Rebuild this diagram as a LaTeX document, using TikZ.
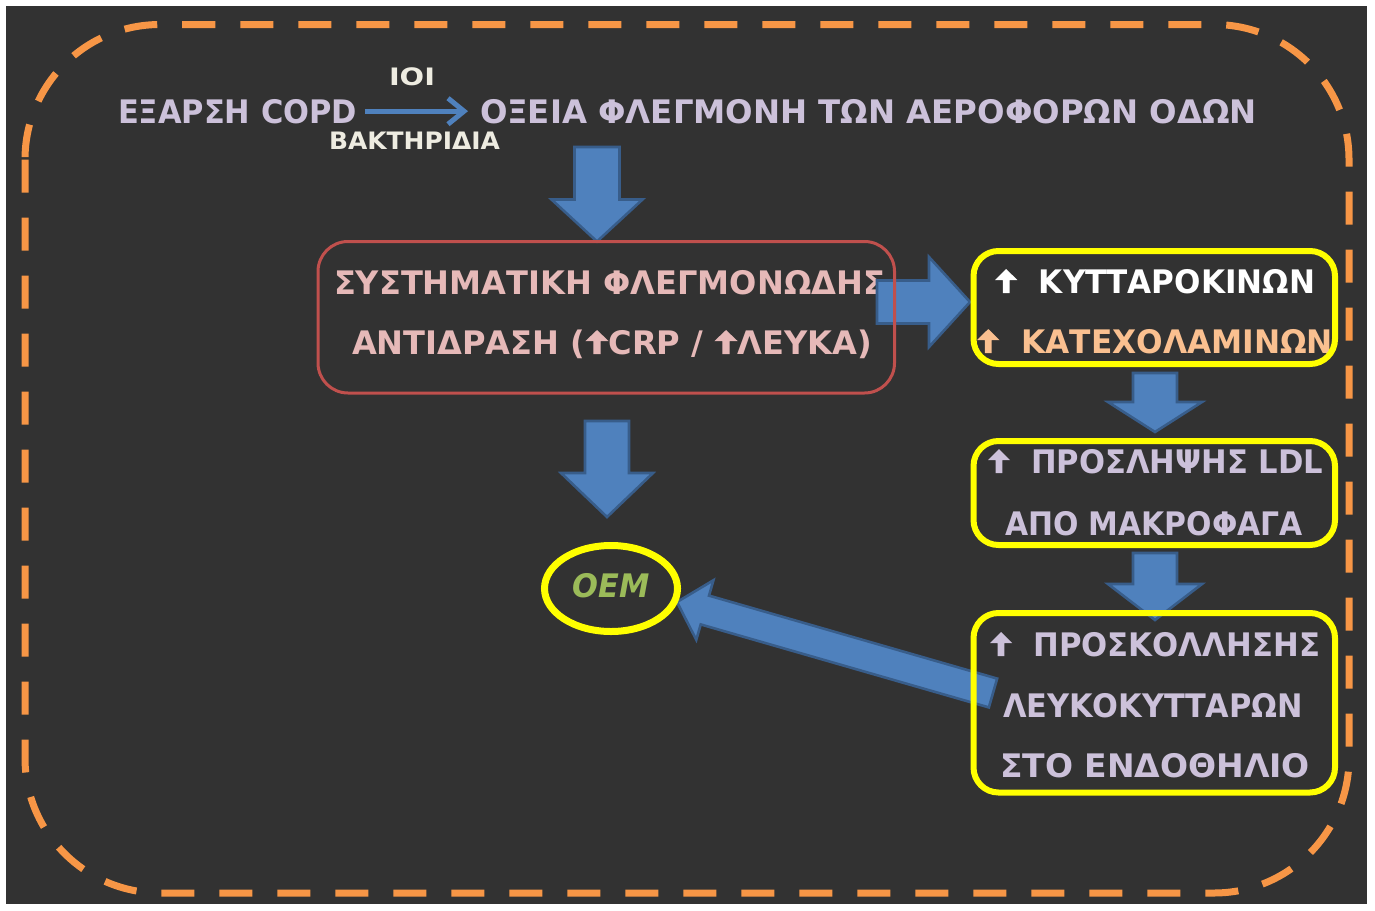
\documentclass[tikz,border=0pt]{standalone}
\usepackage{fontspec}
\setmainfont{DejaVu Sans}
\usepackage{graphicx}
\usetikzlibrary{calc,shapes.geometric,arrows.meta}

\definecolor{bgdark}{HTML}{323232}
\definecolor{frameorange}{HTML}{F79646}
\definecolor{lav}{HTML}{CCC1DA}
\definecolor{cream}{HTML}{EEECE1}
\definecolor{arrblue}{HTML}{4F81BD}
\definecolor{arredge}{HTML}{385D8A}
\definecolor{boxred}{HTML}{C0504D}
\definecolor{pinktxt}{HTML}{E6B9B8}
\definecolor{peach}{HTML}{FAC090}
\definecolor{oemgreen}{HTML}{9BBB59}
\definecolor{hiyellow}{HTML}{FFFF00}

\pgfdeclarelayer{bg}
\pgfdeclarelayer{txt}
\pgfdeclarelayer{arr}
\pgfsetlayers{bg,txt,arr,main}

% text line stretched to a given width
\newcommand\fw[2]{\resizebox{#1}{\height}{#2}}
% small filled "increase" arrow used inside the labels
\newcommand\UpArw[1]{\tikz[x=1em,y=1em,baseline=0pt]\fill[#1] (-0.11,0) -- (-0.11,0.4) -- (-0.36,0.4) -- (0,0.74) -- (0.36,0.4) -- (0.11,0.4) -- (0.11,0) -- cycle;}
% block arrow: [style]{tail}{tip}{shaft half width}{head half width}{head length}
\newcommand\blkarrow[6][]{%
  \path ($(#3)!#6!(#2)$) coordinate (hb);
  \filldraw[blockarrow,#1] ($(#2)!#4!90:(#3)$) -- ($(hb)!#4!90:(#3)$) -- ($(hb)!#5!90:(#3)$) -- (#3)
     -- ($(hb)!#5!-90:(#3)$) -- ($(hb)!#4!-90:(#3)$) -- ($(#2)!#4!-90:(#3)$) -- cycle;
}

\tikzset{
  lbl/.style={anchor=base west, inner sep=0pt, outer sep=0pt, font=\bfseries\fontsize{16.2pt}{19pt}\selectfont},
  smalllbl/.style={anchor=base, inner sep=0pt, outer sep=0pt, font=\bfseries\fontsize{12pt}{14pt}\selectfont, text=cream},
  redframe/.style={rectangle, draw=boxred, line width=1.5pt, rounded corners=15pt, inner sep=0pt, outer sep=0pt},
  yelframe/.style={rectangle, draw=hiyellow, line width=3pt, rounded corners=12.5pt, inner sep=0pt, outer sep=0pt, minimum width=180.75pt},
  blockarrow/.style={fill=arrblue, draw=arredge, line width=1.3pt, line join=miter},
  thinarrow/.style={draw=arrblue, line width=2.5pt, -{Straight Barb[length=8pt,width=13pt]}},
  outerframe/.style={draw=frameorange, line width=3.5pt, dash pattern=on 16.5pt off 12.5pt, rounded corners=67.5pt},
}

\begin{document}
\begin{tikzpicture}[x=0.5pt,y=-0.5pt]
\useasboundingbox (0,0) rectangle (1375,910);

\begin{pgfonlayer}{bg}
  \fill[white] (0,0) rectangle (1375,910);
  \fill[bgdark] (6,6) rectangle (1367,904);
  \draw[outerframe] (25,24.5) rectangle (1349,893);
\end{pgfonlayer}

% boxes
\node[redframe, minimum width=288.25pt, minimum height=75.75pt] (redbox) at (606.25,317.25) {};
\node[yelframe, minimum height=56.5pt] (box1) at (1154.25,307.5) {};
\node[yelframe, minimum height=52pt] (box2) at (1154.25,493) {};
\node[yelframe, minimum height=89.75pt] (box3) at (1154.25,702.75) {};
\node[ellipse, draw=hiyellow, line width=3.5pt, minimum width=66.5pt, minimum height=43pt, inner sep=0pt, outer sep=0pt] (oem) at (611,588.5) {};

% texts
\begin{pgfonlayer}{txt}
  \node[lbl, text=lav] (exa) at (118,123) {\fw{119.5pt}{ΕΞΑΡΣΗ COPD}};
  \node[lbl, text=lav] (oxeia) at (480,123) {\fw{388.5pt}{ΟΞΕΙΑ ΦΛΕΓΜΟΝΗ ΤΩΝ ΑΕΡΟΦΟΡΩΝ ΟΔΩΝ}};
  \node[smalllbl] (ioi) at (412,85) {\fw{23pt}{ΙΟΙ}};
  \node[smalllbl] (bakt) at (414.5,149) {\fw{85.5pt}{ΒΑΚΤΗΡΙΔΙΑ}};

  \node[lbl, text=pinktxt] (red1) at (334,294) {\fw{275.5pt}{ΣΥΣΤΗΜΑΤΙΚΗ ΦΛΕΓΜΟΝΩΔΗΣ}};
  \node[lbl, text=pinktxt] (red2) at (352,354) {\fw{260pt}{ΑΝΤΙΔΡΑΣΗ (\UpArw{pinktxt}CRP / \UpArw{pinktxt}ΛΕΥΚΑ)}};

  \node[lbl, text=white] (cyt) at (995,293) {\fw{160pt}{\UpArw{white}\ \ ΚΥΤΤΑΡΟΚΙΝΩΝ}};
  \node[lbl, text=peach] (cat) at (977,353) {\fw{178pt}{\UpArw{peach}\ \ ΚΑΤΕΧΟΛΑΜΙΝΩΝ}};

  \node[lbl, text=lav] (ldl1) at (988,473) {\fw{167.5pt}{\UpArw{lav}\ \ ΠΡΟΣΛΗΨΗΣ LDL}};
  \node[lbl, text=lav] (ldl2) at (1005,535) {\fw{149pt}{ΑΠΟ ΜΑΚΡΟΦΑΓΑ}};

  \node[lbl, text=lav] (adh1) at (990,656) {\fw{165pt}{\UpArw{lav}\ \ ΠΡΟΣΚΟΛΛΗΣΗΣ}};
  \node[lbl, text=lav] (adh2) at (1003,717) {\fw{150pt}{ΛΕΥΚΟΚΥΤΤΑΡΩΝ}};
  \node[lbl, text=lav] (adh3) at (1000,777) {\fw{155pt}{ΣΤΟ ΕΝΔΟΘΗΛΙΟ}};

  \node[lbl, anchor=base, text=oemgreen, font=\bfseries\itshape\fontsize{16.2pt}{19pt}\selectfont] (oemtxt) at (oem.center |- 0,597) {\fw{38.5pt}{ΟΕΜ}};
\end{pgfonlayer}

% connectors
\begin{pgfonlayer}{arr}
  \draw[thinarrow, shorten <=4pt, shorten >=6pt] (exa.east) -- (exa.east -| oxeia.west);

  \coordinate (a1t) at (597,147);
  \coordinate (a1h) at (a1t |- redbox.north);
  \blkarrow{a1t}{a1h}{11.25pt}{22.75pt}{21pt}

  \coordinate (a4t) at (607,421);
  \coordinate (a4h) at (607,517);
  \blkarrow{a4t}{a4h}{11pt}{23pt}{22pt}

  \coordinate (rat) at (877,302);
  \coordinate (rah) at (970,302);
  \blkarrow{rat}{rah}{10.75pt}{22.5pt}{20.5pt}

  \coordinate (a2t) at (1155,373);
  \coordinate (a2h) at (1155,432);
  \blkarrow{a2t}{a2h}{11pt}{23.5pt}{15pt}

  \coordinate (a3t) at (1155,553);
  \coordinate (a3h) at (1155,620);
  \blkarrow{a3t}{a3h}{11pt}{23.5pt}{18pt}

  \coordinate (dgt) at (993,693);
  \coordinate (dgh) at (677,602);
  \blkarrow{dgt}{dgh}{7.5pt}{15.5pt}{14.5pt}
\end{pgfonlayer}
\end{tikzpicture}
\end{document}
